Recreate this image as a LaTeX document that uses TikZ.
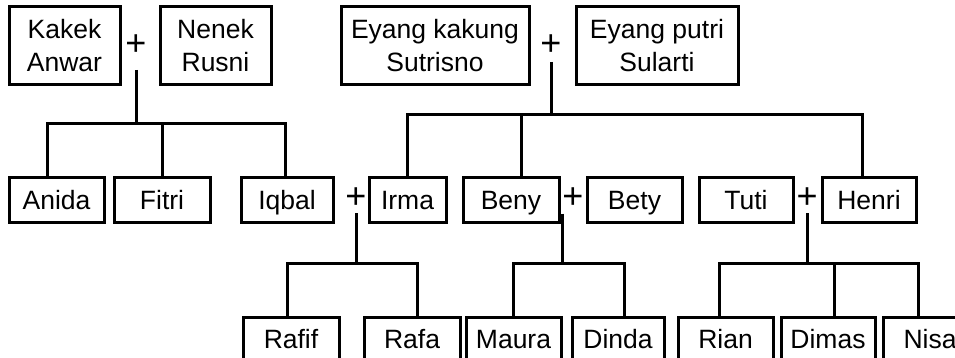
\documentclass[tikz,border=0pt]{standalone}
\usepackage{fontspec}
\setmainfont{Liberation Sans}
\usetikzlibrary{positioning}

\begin{document}
\begin{tikzpicture}[x=1pt,y=-1pt,line width=3pt,
  gbox/.style={draw,minimum height=78pt,inner sep=0pt,align=center,font=\fontsize{26.5}{33}\selectfont},
  pbox/.style={draw,minimum height=44pt,inner sep=0pt,text height=19pt,text depth=0pt,font=\fontsize{26.5}{33}\selectfont},
  plussign/.style={inner sep=0pt,font=\fontsize{36}{36}\selectfont}]
	\pgfmathsetmacro{\TopY}{46}
	\pgfmathsetmacro{\MidY}{200}
	\pgfmathsetmacro{\LowY}{339}
	\useasboundingbox (0,0) rectangle (955,358);
	\clip (0,0) rectangle (955,358);
	% GRANDPARENTS
	\node[gbox,minimum width=111pt] (anwar) at (64.5,\TopY) {Kakek\\Anwar};
	\node[plussign] (plusA) at (136,45) {+};
	\node[gbox,minimum width=111pt] (rusni) at (215.5,\TopY) {Nenek\\Rusni};
	\node[gbox,minimum width=188pt] (sutrisno) at (435,\TopY) {Eyang kakung\\Sutrisno};
	\node[plussign] (plusB) at (551,45) {+};
	\node[gbox,minimum width=162pt] (sularti) at (657,\TopY) {Eyang putri\\Sularti};
	% CHILDREN
	\node[pbox,minimum width=95pt] (anida) at (56.5,\MidY) {Anida};
	\node[pbox,minimum width=96pt] (fitri) at (162,\MidY) {Fitri};
	\node[pbox,minimum width=92pt] (iqbal) at (287,\MidY) {Iqbal};
	\node[plussign] (plusC) at (356,198) {+};
	\node[pbox,minimum width=77pt] (irma) at (407.5,\MidY) {Irma};
	\node[pbox,minimum width=96pt] (beny) at (511,\MidY) {Beny};
	\node[plussign] (plusE) at (573,198) {+};
	\node[pbox,minimum width=95pt] (bety) at (634.5,\MidY) {Bety};
	\node[pbox,minimum width=94pt] (tuti) at (746,\MidY) {Tuti};
	\node[plussign] (plusD) at (807,198) {+};
	\node[pbox,minimum width=94pt] (henri) at (869,\MidY) {Henri};
	% GRANDCHILDREN
	\node[pbox,minimum width=96pt] (rafif) at (291,\LowY) {Rafif};
	\node[pbox,minimum width=96pt] (rafa) at (412,\LowY) {Rafa};
	\node[pbox,minimum width=95pt] (maura) at (513.5,\LowY) {Maura};
	\node[pbox,minimum width=92pt] (dinda) at (618,\LowY) {Dinda};
	\node[pbox,minimum width=95pt] (rian) at (725.5,\LowY) {Rian};
	\node[pbox,minimum width=94pt] (dimas) at (828,\LowY) {Dimas};
	\node[pbox,minimum width=94pt] (nisa) at (930,\LowY) {Nisa};
	% ANWAR + RUSNI
	\coordinate (jAnwar) at (136,124);
	\draw ([yshift=-25pt]plusA.center) -- (jAnwar);
	\draw ([xshift=-9pt]anida.north) |- (jAnwar) -| ([xshift=-2pt]iqbal.north);
	\draw (fitri.north) -- (fitri.north |- jAnwar);
	% SUTRISNO + SULARTI
	\coordinate (jSutrisno) at (551,115);
	\draw ([yshift=-17pt]plusB.center) -- (jSutrisno);
	\draw (irma.north) |- (jSutrisno) -| ([xshift=-7pt]henri.north);
	\draw ([xshift=10pt]beny.north) -- ([xshift=10pt]beny.north |- jSutrisno);
	% IQBAL + IRMA
	\coordinate (jIqbal) at (356,263);
	\draw ([yshift=-15pt]plusC.center) -- (jIqbal);
	\draw ([xshift=-4pt]rafif.north) |- (jIqbal) -| ([xshift=5pt]rafa.north);
	% BENY + BETY
	\draw ([xshift=2pt,yshift=10pt]beny.south east) -- ++(0,50) coordinate (jBeny);
	\draw (maura.north) |- (jBeny) -| ([xshift=6pt]dinda.north);
	% TUTI + HENRI
	\coordinate (jTuti) at (807,263);
	\draw ([yshift=-15pt]plusD.center) -- (jTuti);
	\draw ([xshift=-6pt]rian.north) |- (jTuti) -| ([xshift=-12pt]nisa.north);
	\draw ([xshift=6pt]dimas.north) -- ([xshift=6pt]dimas.north |- jTuti);
\end{tikzpicture}
\end{document}
